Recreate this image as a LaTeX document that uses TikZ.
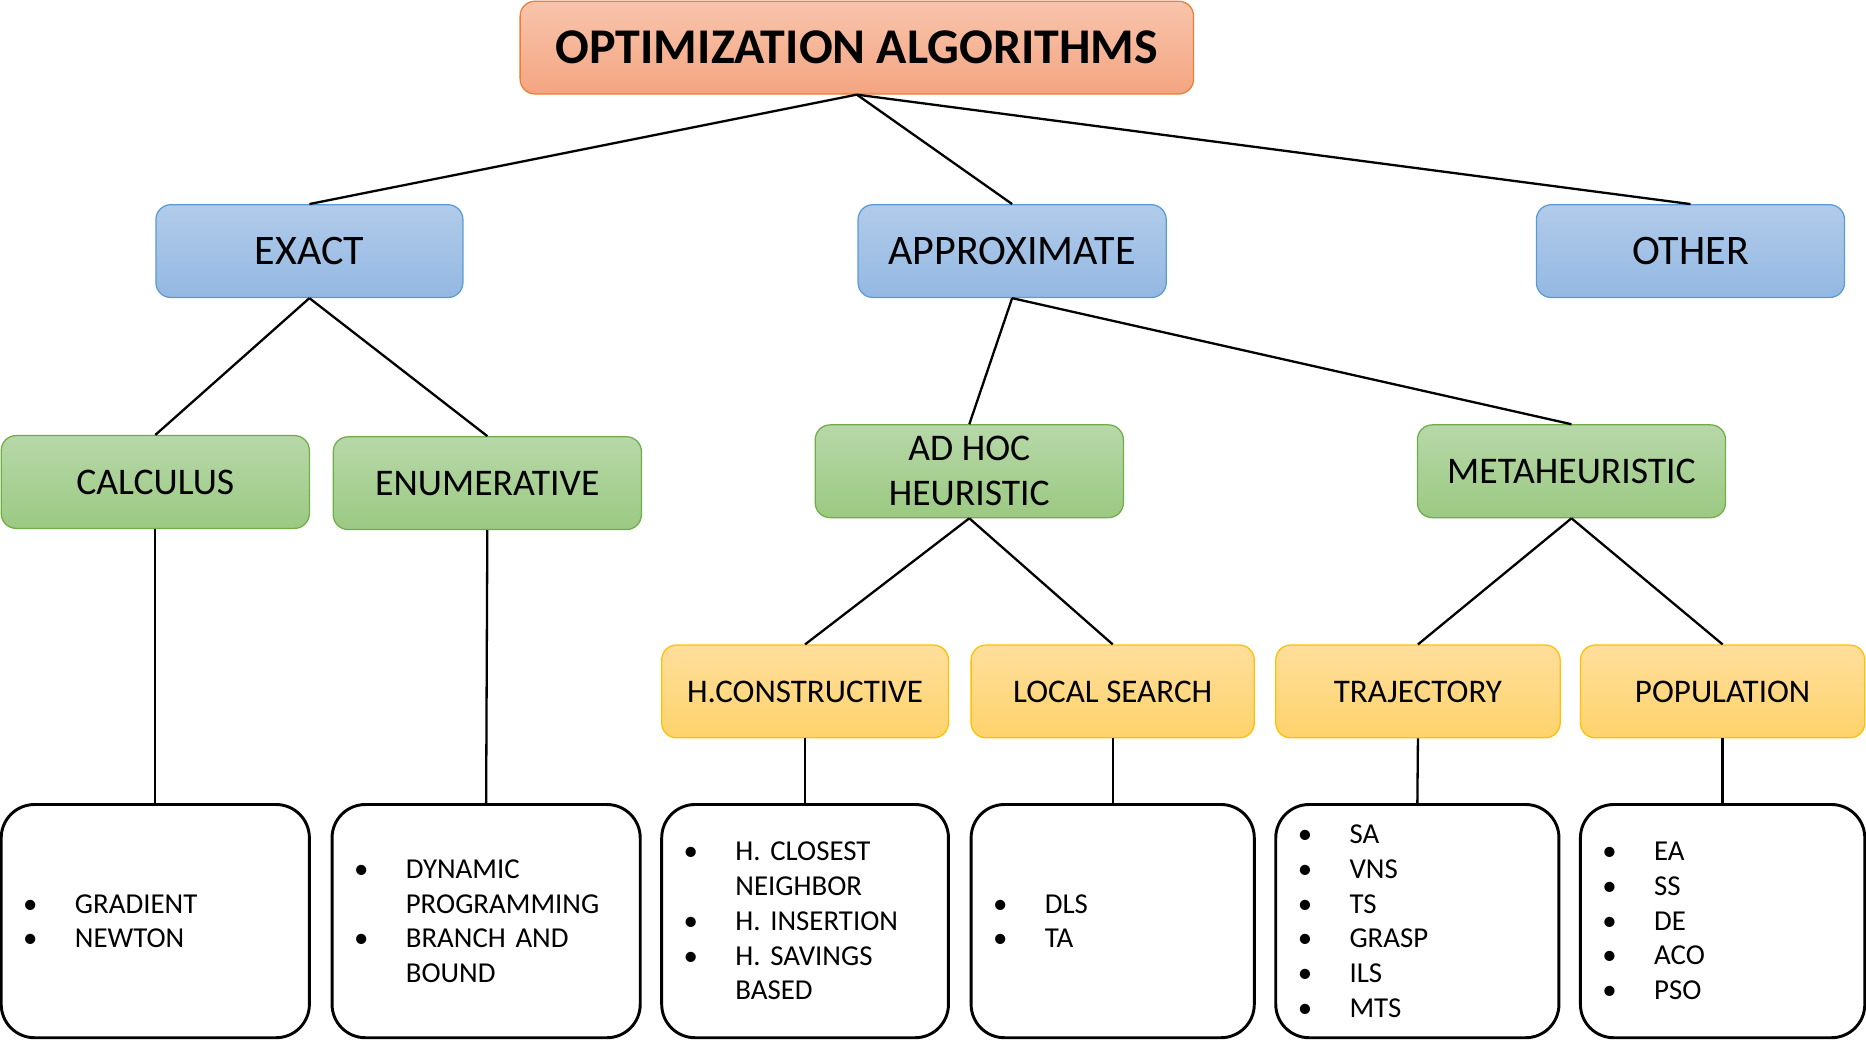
\documentclass[tikz,border=0pt]{standalone}
\usepackage{fontspec}
\setmainfont{Carlito}
\usepackage{xcolor}
\usepackage{tikz}

\definecolor{titletop}{HTML}{F8C4AC}
\definecolor{titlebot}{HTML}{F4A581}
\definecolor{titleline}{HTML}{ED7D31}
\definecolor{bluetop}{HTML}{B1CBEA}
\definecolor{bluebot}{HTML}{94B8E2}
\definecolor{blueline}{HTML}{5B9BD5}
\definecolor{greentop}{HTML}{B7D8A9}
\definecolor{greenbot}{HTML}{9BC982}
\definecolor{greenline}{HTML}{70AD47}
\definecolor{yellowtop}{HTML}{FFDE9C}
\definecolor{yellowbot}{HTML}{FED36B}
\definecolor{yellowline}{HTML}{FFC000}

\newcommand{\bitem}[1]{\makebox[0.72cm][l]{\hspace*{-0.15cm}\textbullet}#1}
\newcommand{\bcont}[1]{\hspace*{0.72cm}#1}

\begin{document}
\begin{tikzpicture}[x=0.02cm,y=-0.02cm,
    catbox/.style={rounded corners=0.25cm, line width=0.6pt, minimum height=1.56cm,
        inner sep=0pt, align=center},
    titlebox/.style={catbox, draw=titleline, top color=titletop, bottom color=titlebot,
        minimum width=11.32cm, font=\bfseries\fontsize{23.9}{28}\selectfont},
    bluebox/.style={catbox, draw=blueline, top color=bluetop, bottom color=bluebot, minimum width=#1,
        font=\fontsize{20.1}{22}\selectfont},
    bluebox/.default=5.18cm,
    greenbox/.style={catbox, draw=greenline, top color=greentop, bottom color=greenbot, minimum width=#1,
        font=\fontsize{18}{21.6}\selectfont},
    greenbox/.default=5.18cm,
    yellowbox/.style={catbox, draw=yellowline, top color=yellowtop, bottom color=yellowbot, minimum width=#1,
        font=\fontsize{15.8}{19}\selectfont},
    yellowbox/.default=4.78cm,
    listbox/.style={draw, line width=1.4pt, rounded corners=0.56cm, minimum height=3.92cm,
        text width=#1, inner xsep=0.52cm, inner ysep=0pt, align=left,
        font=\fontsize{13.8}{16.6}\selectfont},
    link/.style={line width=1.1pt}]
            \useasboundingbox (0,0) rectangle (1568,877);

            %%% CATEGORIES %%%
            \node[titlebox] (opt) at (720,40) {OPTIMIZATION ALGORITHMS};
            \node[bluebox=5.16cm] (exact) at (260,211) {EXACT};
            \node[bluebox] (approx) at (850.5,211) {APPROXIMATE};
            \node[bluebox] (other) at (1420.5,211) {OTHER};
            \node[greenbox] (calculus) at (130.5,405) {CALCULUS};
            \node[greenbox] (enum) at (409.5,406) {ENUMERATIVE};
            \node[greenbox] (adhoc) at (814.5,396) {AD HOC\\HEURISTIC};
            \node[greenbox] (meta) at (1320.5,396) {METAHEURISTIC};
            \node[yellowbox=4.82cm] (hcons) at (676.5,581) {H.CONSTRUCTIVE};
            \node[yellowbox=4.76cm] (local) at (935,581) {LOCAL SEARCH};
            \node[yellowbox] (traj) at (1191.5,581) {TRAJECTORY};
            \node[yellowbox] (pop) at (1447.5,581) {POPULATION};

            %%% METHOD LISTS %%%
            \node[listbox=4.14cm] (lcalculus) at (130.5,774) {\bitem{GRADIENT}\\\bitem{NEWTON}};
            \node[listbox=4.14cm] (lenum) at (408.5,774) {\bitem{DYNAMIC}\\\bcont{PROGRAMMING}\\\bitem{BRANCH AND}\\\bcont{BOUND}};
            \node[listbox=3.78cm] (lhcons) at (676.5,774) {\bitem{H. CLOSEST}\\\bcont{NEIGHBOR}\\\bitem{H. INSERTION}\\\bitem{H. SAVINGS}\\\bcont{BASED}};
            \node[listbox=3.72cm] (llocal) at (935,774) {\bitem{DLS}\\\bitem{TA}};
            \node[listbox=3.72cm] (ltraj) at (1191,774) {\bitem{SA}\\\bitem{VNS}\\\bitem{TS}\\\bitem{GRASP}\\\bitem{ILS}\\\bitem{MTS}};
            \node[listbox=3.74cm] (lpop) at (1447.5,774) {\bitem{EA}\\\bitem{SS}\\\bitem{DE}\\\bitem{ACO}\\\bitem{PSO}};

            %%% LINKS %%%
            \draw[link] (opt.south)--(exact.north);
            \draw[link] (opt.south)--(approx.north);
            \draw[link] (opt.south)--(other.north);
            \draw[link] (exact.south)--(calculus.north);
            \draw[link] (exact.south)--(enum.north);
            \draw[link] (approx.south)--(adhoc.north);
            \draw[link] (approx.south)--(meta.north);
            \draw[link] (adhoc.south)--(hcons.north);
            \draw[link] (adhoc.south)--(local.north);
            \draw[link] (meta.south)--(traj.north);
            \draw[link] (meta.south)--(pop.north);
            \draw[link] (calculus.south)--(lcalculus.north);
            \draw[link] (enum.south)--(lenum.north);
            \draw[link] (hcons.south)--(lhcons.north);
            \draw[link] (local.south)--(llocal.north);
            \draw[link] (traj.south)--(ltraj.north);
            \draw[link] (pop.south)--(lpop.north);
        \end{tikzpicture}
\end{document}
